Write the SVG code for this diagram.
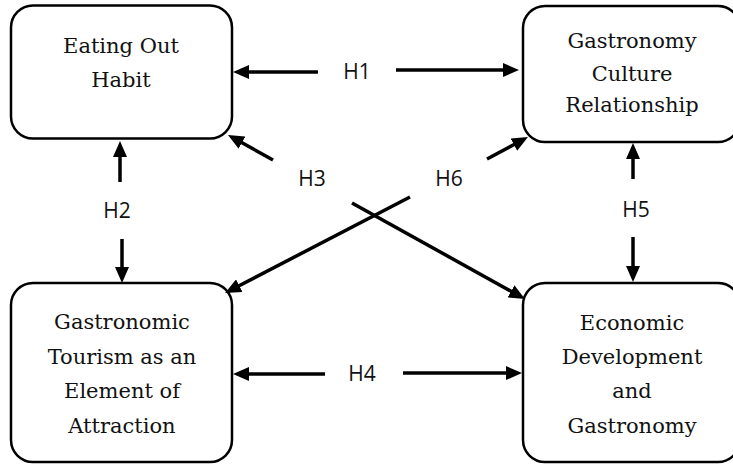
<svg xmlns="http://www.w3.org/2000/svg" width="733" height="466" viewBox="0 0 733 466">
<style>
.box{fill:#fff;stroke:#000;stroke-width:2.5}
.t{font-family:"DejaVu Serif","Liberation Serif",serif;font-size:21px;fill:#111;text-anchor:middle}
.lbl{font-family:"Open Sans","Liberation Sans",sans-serif;font-size:21px;fill:#111;text-anchor:middle}
.c{stroke:#000;stroke-width:3.5;fill:none;marker-end:url(#ah)}
</style>
<defs>
<marker id="ah" viewBox="0 0 16 14" refX="4" refY="7" markerWidth="16" markerHeight="14" markerUnits="userSpaceOnUse" orient="auto">
<path d="M0,0 L16,7 L0,14 z" fill="#000"/>
</marker>
</defs>
<rect width="733" height="466" fill="#fff"/>
<g id="eating-out-habit">
<rect class="box" x="11" y="5.5" width="221" height="133" rx="22"/>
<text class="t" x="121" y="53">Eating Out</text>
<text class="t" x="121" y="87">Habit</text>
</g>
<g id="gastronomy-culture-relationship">
<rect class="box" x="523" y="6" width="217" height="136" rx="22"/>
<text class="t" x="632" y="48">Gastronomy</text>
<text class="t" x="632" y="81">Culture</text>
<text class="t" x="632" y="112">Relationship</text>
</g>
<g id="gastronomic-tourism">
<rect class="box" x="11" y="283" width="221" height="179" rx="22"/>
<text class="t" x="122" y="329">Gastronomic</text>
<text class="t" x="122" y="364">Tourism as an</text>
<text class="t" x="122" y="398">Element of</text>
<text class="t" x="122" y="433">Attraction</text>
</g>
<g id="economic-development">
<rect class="box" x="523" y="283" width="217" height="179" rx="22"/>
<text class="t" x="632" y="330">Economic</text>
<text class="t" x="632" y="364">Development</text>
<text class="t" x="632" y="398">and</text>
<text class="t" x="632" y="433">Gastronomy</text>
</g>
<g id="connectors">
<line class="c" x1="318" y1="72" x2="245" y2="72"/>
<line class="c" x1="396" y1="70" x2="507" y2="70"/>
<line class="c" x1="120" y1="182" x2="120" y2="153"/>
<line class="c" x1="122" y1="239" x2="122" y2="271"/>
<line class="c" x1="633" y1="179" x2="633" y2="155"/>
<line class="c" x1="633" y1="237" x2="633" y2="270"/>
<line class="c" x1="325" y1="374" x2="245" y2="374"/>
<line class="c" x1="403" y1="373" x2="510" y2="373"/>
<line class="c" x1="273" y1="160" x2="238.5" y2="140.8"/>
<line class="c" x1="352" y1="203" x2="514.5" y2="293.2"/>
<line class="c" x1="487" y1="159" x2="517.4" y2="142.7"/>
<line class="c" x1="410" y1="197" x2="235.7" y2="287.5"/>
</g>
<g id="labels">
<text class="lbl" x="357" y="79">H1</text>
<text class="lbl" x="117" y="218">H2</text>
<text class="lbl" x="312" y="186">H3</text>
<text class="lbl" x="449" y="186">H6</text>
<text class="lbl" x="636" y="217">H5</text>
<text class="lbl" x="362" y="381">H4</text>
</g>
</svg>
